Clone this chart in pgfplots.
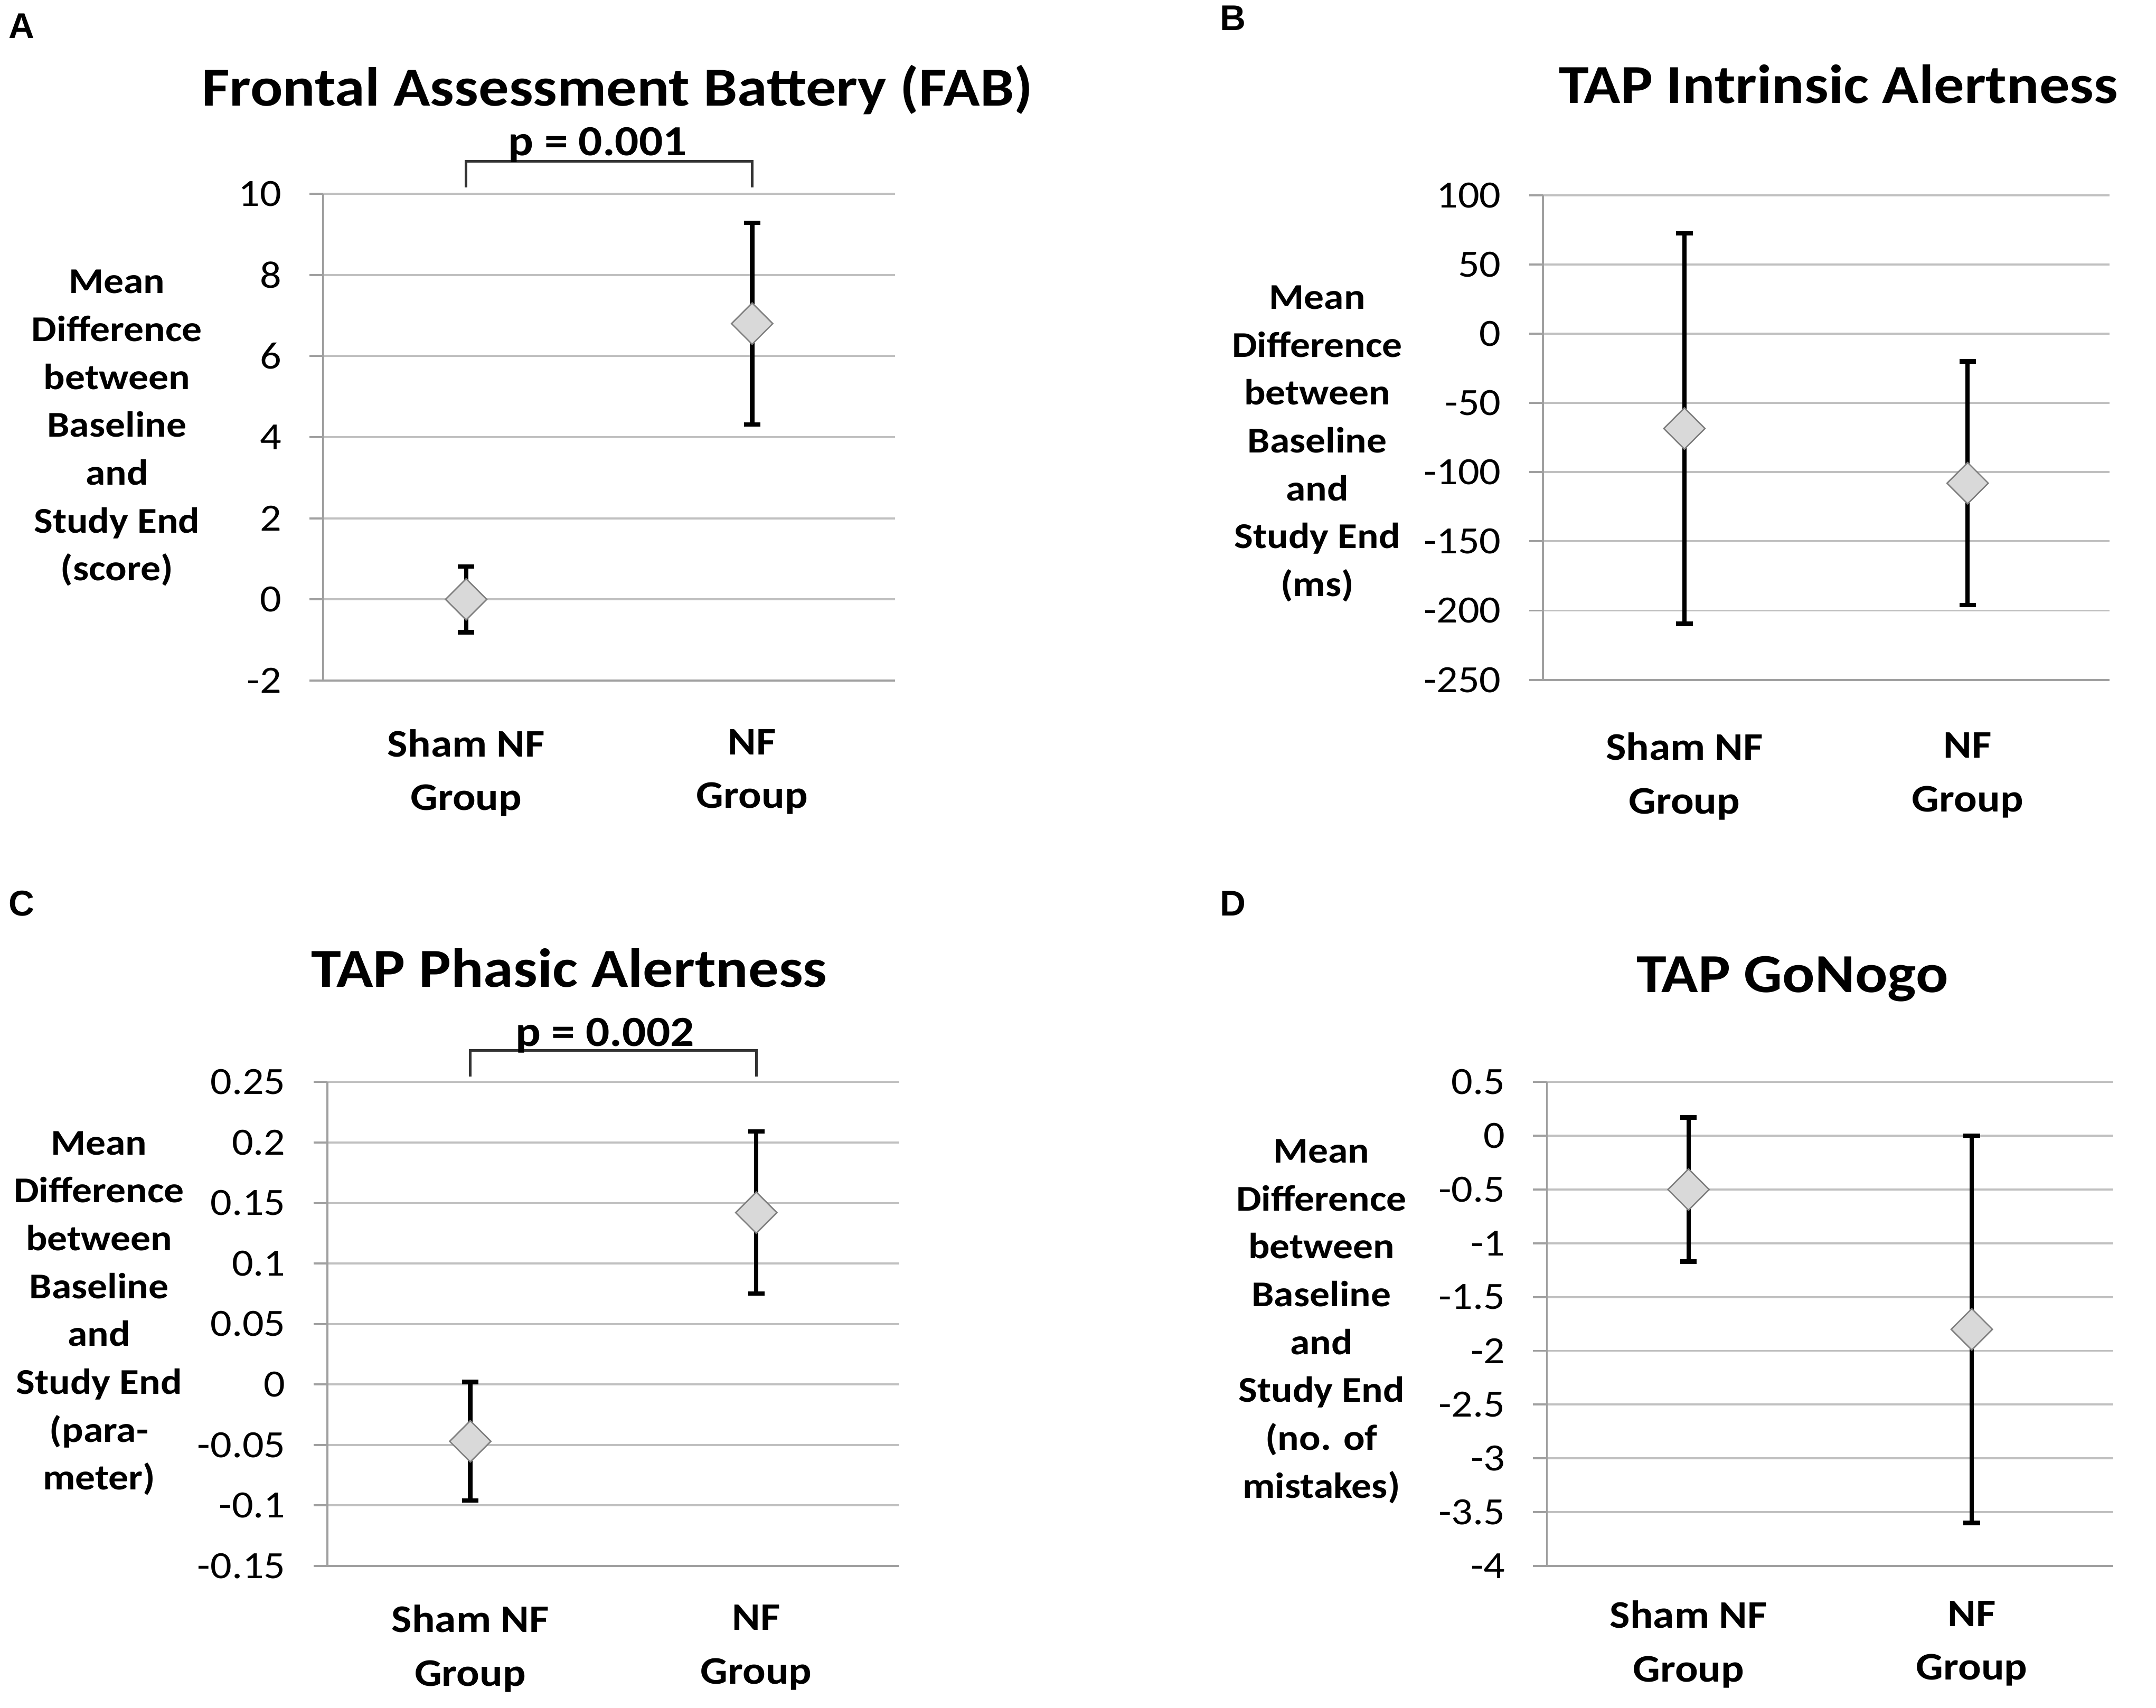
\documentclass[border=0pt]{standalone}
\usepackage{fontspec}
\setmainfont{Carlito}[FakeStretch=1.1]
\newfontfamily\letterfont{Liberation Sans}
\usepackage{pgfplots}
\pgfplotsset{compat=1.18}

\definecolor{gridgray}{HTML}{C0C0C0}
\definecolor{axisgray}{HTML}{A0A0A0}
\definecolor{markfill}{HTML}{D9D9D9}
\definecolor{markdraw}{HTML}{7F7F7F}

\pgfplotsset{
  panel/.style={
    scale only axis, anchor=south west, clip=false,
    xmin=0, xmax=2,
    xtick={0.5,1.5},
    xticklabels={Sham NF\\Group, NF\\Group},
    xticklabel style={align=center, anchor=north, inner sep=0pt,
      font=\bfseries\fontsize{14.2}{19.5}\selectfont},
    axis y line*=left, axis x line*=bottom,
    ymajorgrids,
    grid style={draw=gridgray, line width=0.75pt},
    axis line style={draw=axisgray, line width=0.75pt},
    major y tick style={draw=axisgray, line width=0.75pt},
    major x tick style={draw=none},
    tick align=outside, major tick length=5pt,
    yticklabel style={anchor=east, inner sep=0pt, xshift=-10pt,
      font=\fontsize{14}{16}\selectfont},
    /pgf/number format/assume math mode=true,
  },
  bars/.style={only marks, mark=none, forget plot,
    error bars/.cd, y dir=both, y explicit,
    error bar style={draw=black, line width=1.6pt},
    error mark options={rotate=90, mark size=3pt, draw=black, line width=1.6pt}},
  dots/.style={only marks, mark=square*, mark size=5.3pt,
    mark options={rotate=45, fill=markfill, draw=markdraw, line width=0.5pt}},
}

\begin{document}
\begin{tikzpicture}
\path[use as bounding box] (0,0) rectangle (784pt,621pt);

% A
\begin{axis}[panel, at={(117.5pt,373.5pt)}, width=208pt, height=177pt,
  ymin=-2, ymax=10, ytick={-2,0,2,4,6,8,10},
  yticklabels={-2,0,2,4,6,8,10},
  xticklabel style={yshift=-12.5pt}]
\addplot[bars] coordinates {(0.5,0) +- (0,0.81) (1.5,6.8) +- (0,2.49)};
\addplot[dots] coordinates {(0.5,0) (1.5,6.8)};
\draw[black!80, line width=0.9pt] (axis cs:0.5,10.16) -- (axis cs:0.5,10.8)
  -- (axis cs:1.5,10.8) -- (axis cs:1.5,10.16);
\node[anchor=base, inner sep=0pt, font=\bfseries\fontsize{15.6}{18}\selectfont]
  at (axis cs:0.96,10.95) {p = 0.001};
\end{axis}

% B
\begin{axis}[panel, at={(561pt,373.75pt)}, width=206pt, height=176.25pt,
  ymin=-250, ymax=100, ytick={-250,-200,-150,-100,-50,0,50,100},
  yticklabels={-250,-200,-150,-100,-50,0,50,100},
  xticklabel style={yshift=-14pt}]
\addplot[bars] coordinates {(0.5,-68.5) +- (0,141) (1.5,-108) +- (0,88)};
\addplot[dots] coordinates {(0.5,-68.5) (1.5,-108)};
\end{axis}

% C
\begin{axis}[panel, at={(119pt,51.5pt)}, width=208pt, height=176pt,
  ymin=-0.15, ymax=0.25, ytick={-0.15,-0.1,-0.05,0,0.05,0.1,0.15,0.2,0.25},
  yticklabels={-0.15,-0.1,-0.05,0,0.05,0.1,0.15,0.2,0.25},
  xticklabel style={yshift=-9pt}]
\addplot[bars] coordinates {(0.5,-0.047) +- (0,0.049) (1.5,0.142) +- (0,0.067)};
\addplot[dots] coordinates {(0.5,-0.047) (1.5,0.142)};
\draw[black!80, line width=0.9pt] (axis cs:0.5,0.2545) -- (axis cs:0.5,0.2761)
  -- (axis cs:1.5,0.2761) -- (axis cs:1.5,0.2545);
\node[anchor=base, inner sep=0pt, font=\bfseries\fontsize{15.6}{18}\selectfont]
  at (axis cs:0.971,0.2795) {p = 0.002};
\end{axis}

% D
\begin{axis}[panel, at={(562.5pt,51.5pt)}, width=206pt, height=176pt,
  ymin=-4, ymax=0.5, ytick={-4,-3.5,-3,-2.5,-2,-1.5,-1,-0.5,0,0.5},
  yticklabels={-4,-3.5,-3,-2.5,-2,-1.5,-1,-0.5,0,0.5},
  xticklabel style={yshift=-7.5pt}]
\addplot[bars] coordinates {(0.5,-0.5) +- (0,0.67) (1.5,-1.8) +- (0,1.8)};
\addplot[dots] coordinates {(0.5,-0.5) (1.5,-1.8)};
\end{axis}

% titles
\begin{scope}[every node/.style={anchor=base, inner sep=0pt,
    font=\bfseries\fontsize{20}{24}\selectfont}]
\node at (224.5pt,582.5pt) {Frontal Assessment Battery (FAB)};
\node at (668.5pt,583.5pt) {TAP Intrinsic Alertness};
\node at (207pt,262.1pt) {TAP Phasic Alertness};
\node at (651.75pt,260.1pt) {TAP GoNogo};
\end{scope}

% panel letters
\begin{scope}[every node/.style={anchor=base west, inner sep=0pt,
    font=\letterfont\bfseries\fontsize{13}{15}\selectfont}]
\node at (3pt,607pt) {A};
\node at (443.5pt,610pt) {B};
\node at (3pt,288pt) {C};
\node at (443.5pt,288pt) {D};
\end{scope}

% y labels
\begin{scope}[every node/.style={anchor=north, inner sep=0pt, align=center,
    font=\bfseries\fontsize{13.2}{17.4}\selectfont}]
\node at (42.5pt,523pt) {Mean\\Difference\\between\\Baseline\\and\\Study End\\(score)};
\node at (479pt,517.3pt) {Mean\\Difference\\between\\Baseline\\and\\Study End\\(ms)};
\node at (36pt,209.75pt) {Mean\\Difference\\between\\Baseline\\and\\Study End\\(para-\\meter)};
\node at (480.5pt,206.8pt) {Mean\\Difference\\between\\Baseline\\and\\Study End\\(no. of\\mistakes)};
\end{scope}
\end{tikzpicture}
\end{document}
